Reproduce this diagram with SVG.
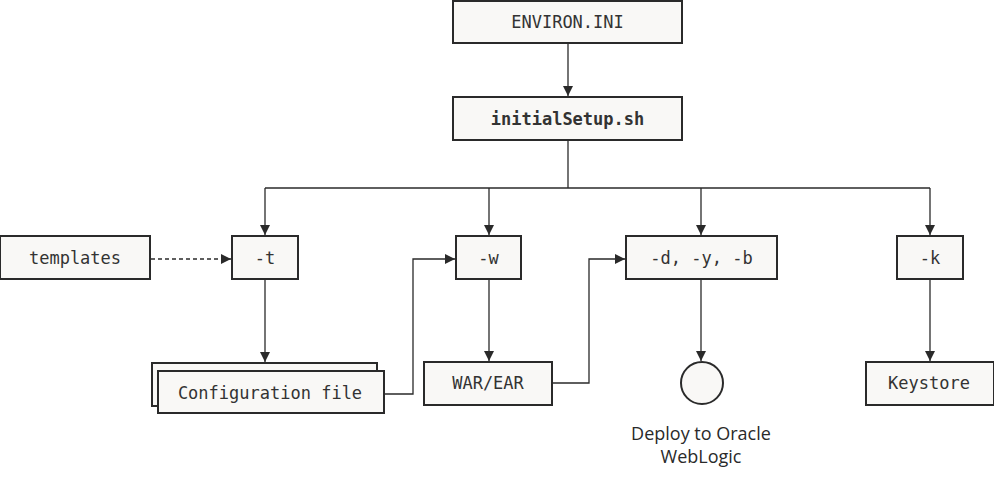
<svg xmlns="http://www.w3.org/2000/svg" width="994" height="480" viewBox="0 0 994 480">
<defs>
<marker id="ah" viewBox="0 0 10 10" refX="10" refY="5" markerWidth="10" markerHeight="10" markerUnits="userSpaceOnUse" orient="auto">
<path d="M0,0 L10,5 L0,10 Z" fill="#2a2a2a"/>
</marker>
<style>
.box{fill:#f9f8f6;stroke:#2a2a2a;stroke-width:2}
.t{font-family:"DejaVu Sans Mono","Liberation Mono",monospace;font-size:17px;fill:#333333;text-anchor:middle;dominant-baseline:central}
.b{font-weight:bold}
.c{fill:none;stroke:#2a2a2a;stroke-width:1.3}
.lbl{font-family:"Open Sans","Liberation Sans",sans-serif;font-size:18px;fill:#2a2a2a;text-anchor:middle}
</style>
</defs>
<rect width="994" height="480" fill="#ffffff"/>
<g id="connectors">
<path class="c" d="M568,44 V96" marker-end="url(#ah)"/>
<path class="c" d="M568,141 V188"/>
<path class="c" d="M265,188 H930"/>
<path class="c" d="M265,188 V235" marker-end="url(#ah)"/>
<path class="c" d="M489,188 V235" marker-end="url(#ah)"/>
<path class="c" d="M701,188 V235" marker-end="url(#ah)"/>
<path class="c" d="M930,188 V235" marker-end="url(#ah)"/>
<path class="c" d="M151,259 H231" stroke-dasharray="4,3" marker-end="url(#ah)"/>
<path class="c" d="M265,280 V362" marker-end="url(#ah)"/>
<path class="c" d="M385,394 H413 V259 H455" marker-end="url(#ah)"/>
<path class="c" d="M489,280 V361" marker-end="url(#ah)"/>
<path class="c" d="M553,383 H589 V259 H625" marker-end="url(#ah)"/>
<path class="c" d="M701,280 V361" marker-end="url(#ah)"/>
<path class="c" d="M930,280 V361" marker-end="url(#ah)"/>
</g>
<g id="environ"><rect class="box" x="453" y="1" width="229" height="42"/><text class="t" x="567.5" y="22">ENVIRON.INI</text></g>
<g id="initialSetup"><rect class="box" x="453" y="97" width="229" height="43"/><text class="t b" x="567.5" y="119">initialSetup.sh</text></g>
<g id="templates"><rect class="box" x="0" y="236" width="150" height="43"/><text class="t" x="75" y="258">templates</text></g>
<g id="opt-t"><rect class="box" x="232" y="236" width="66" height="43"/><text class="t" x="265" y="258">-t</text></g>
<g id="opt-w"><rect class="box" x="456" y="236" width="65" height="43"/><text class="t" x="488.5" y="258">-w</text></g>
<g id="opt-dyb"><rect class="box" x="626" y="236" width="151" height="43"/><text class="t" x="701.5" y="258">-d, -y, -b</text></g>
<g id="opt-k"><rect class="box" x="897" y="236" width="66" height="43"/><text class="t" x="930" y="258">-k</text></g>
<g id="config"><rect class="box" x="152" y="363" width="225" height="43"/><rect class="box" x="158" y="371" width="226" height="42"/><text class="t" x="270" y="393">Configuration file</text></g>
<g id="warear"><rect class="box" x="424" y="362" width="128" height="43"/><text class="t" x="488" y="383">WAR/EAR</text></g>
<g id="deploy"><circle cx="702" cy="383" r="21" fill="#f9f8f6" stroke="#2a2a2a" stroke-width="2"/><text class="lbl" x="701" y="440">Deploy to Oracle</text><text class="lbl" x="701" y="463">WebLogic</text></g>
<g id="keystore"><rect class="box" x="866" y="362" width="128" height="43"/><text class="t" x="929" y="383">Keystore</text></g>
</svg>
